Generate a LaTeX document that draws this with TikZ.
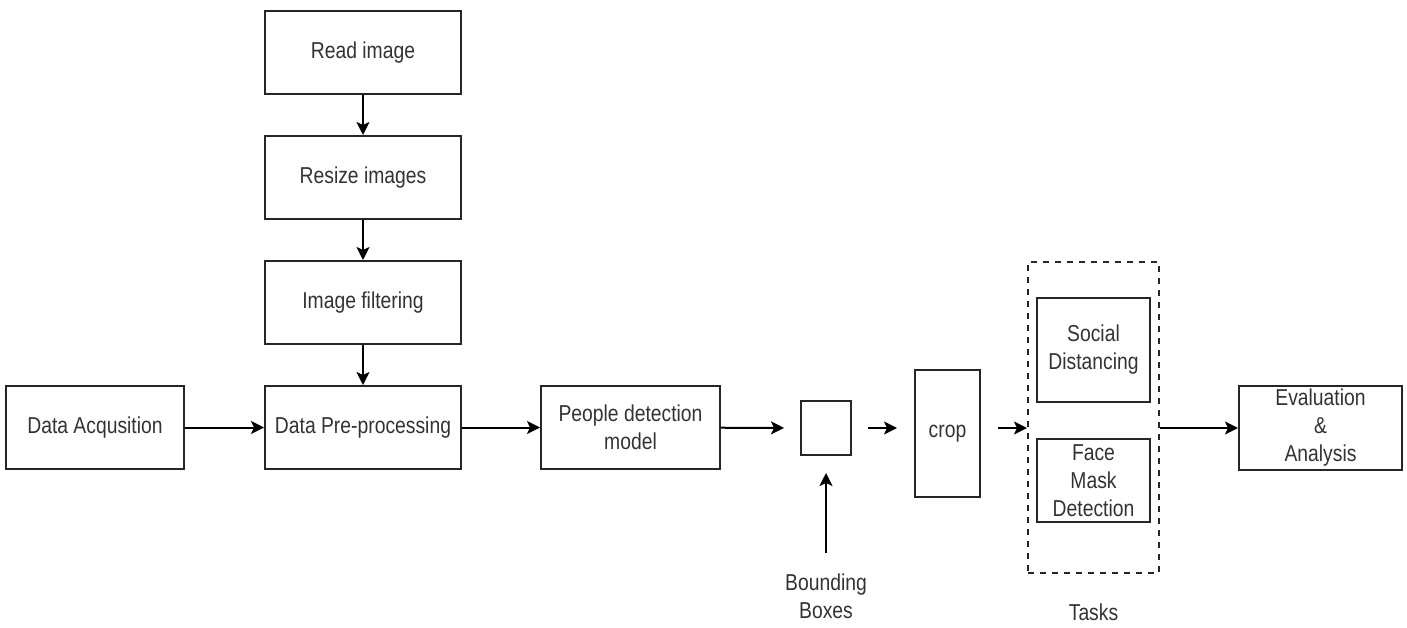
\documentclass[tikz,border=0pt]{standalone}
\usepackage{fontspec}
\setmainfont{Liberation Sans}[FakeStretch=0.84]
\usetikzlibrary{arrows.meta}

\begin{document}
\begin{tikzpicture}[x=0.5pt,y=-0.5pt,
  box/.style={draw=black!85,line width=1pt,inner sep=0pt,align=center,text=black!80,
    font=\fontsize{11.5}{14}\selectfont},
  lbl/.style={inner sep=0pt,align=center,text=black!80,font=\fontsize{11.5}{14}\selectfont},
  arr/.style={line width=1pt,-{Stealth[length=6.5pt,width=6.5pt,inset=1.5pt]}}]
  \useasboundingbox (0,0) rectangle (1407,627);

  % preprocessing column
  \node[box,minimum width=98pt,minimum height=41.5pt] (read) at (363,52.5) {Read image};
  \node[box,minimum width=98pt,minimum height=41.5pt] (resize) at (363,177.5) {Resize images};
  \node[box,minimum width=98pt,minimum height=41.5pt] (filter) at (363,302.5) {Image filtering};

  % main row
  \node[box,minimum width=89pt,minimum height=41.5pt] (acq) at (95,427.5) {Data Acqusition};
  \node[box,minimum width=98pt,minimum height=41.5pt] (pre) at (363,427.5) {Data Pre-processing};
  \node[box,minimum width=89.5pt,minimum height=41.5pt] (people) at (630.5,427.5) {People detection\\model};
  \node[box,minimum width=25pt,minimum height=27pt] (sq) at (826,428) {};
  \node[box,minimum width=32.5pt,minimum height=63.5pt] (crop) at (947.5,433.5) {crop};
  \node[box,minimum width=81.5pt,minimum height=42pt] (eval) at (1320.5,428) {Evaluation\\\&\\Analysis};

  % tasks
  \node[draw=black!85,line width=1pt,dashed,minimum width=65.5pt,minimum height=155.5pt] (tasks) at (1093.5,417.5) {};
  \node[box,minimum width=56.5pt,minimum height=52pt] (social) at (1093.5,350) {Social\\Distancing};
  \node[box,minimum width=56.5pt,minimum height=41.5pt] (face) at (1093.5,480.5) {Face\\Mask\\Detection};
  \node[lbl] (taskslbl) at (1093.5,612) {Tasks};

  \node[lbl] (bblabel) at (826,596) {Bounding\\Boxes};
  \coordinate (bbfoot) at (826,553);

  \draw[arr] (read) -- (resize);
  \draw[arr] (resize) -- (filter);
  \draw[arr] (filter) -- (pre);
  \draw[arr] (acq) -- (pre);
  \draw[arr] (pre) -- (people);
  \draw[arr,shorten >=8pt] (people) -- (sq);
  \draw[arr,shorten <=8pt,shorten >=8.5pt] (sq) -- (crop.west |- sq);
  \draw[arr,shorten <=8.5pt] (crop.east |- sq) -- (tasks.west |- sq);
  \draw[arr] (tasks.east |- eval) -- (eval);
  \draw[arr,shorten >=8.5pt] (bbfoot) -- (sq);
\end{tikzpicture}
\end{document}
